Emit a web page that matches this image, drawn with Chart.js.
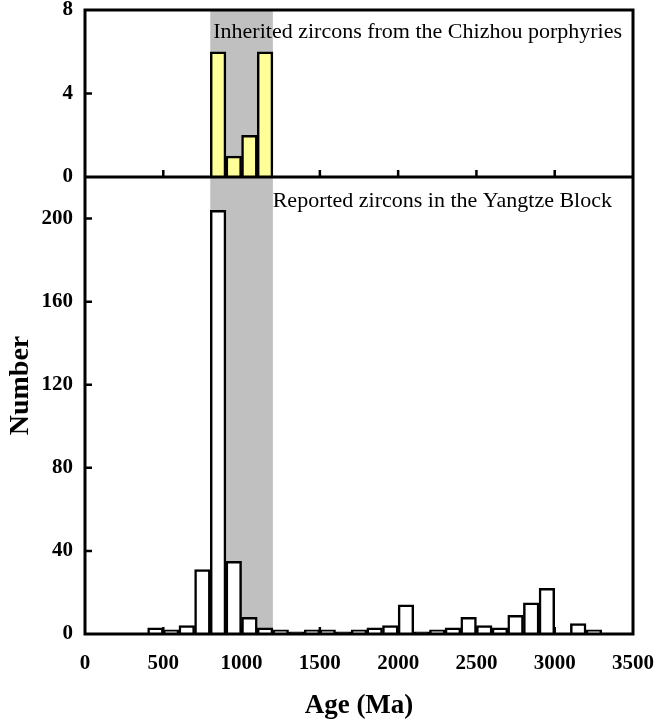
<!DOCTYPE html>
<html>
<head>
<meta charset="utf-8">
<script src="https://cdn.jsdelivr.net/npm/chart.js@4/dist/chart.umd.min.js"></script>
<style>
  html, body { margin: 0; padding: 0; background: #fff; }
  #wrap { width: 657px; height: 722px; position: relative; }
</style>
</head>
<body>
<div id="wrap"><canvas id="c" width="657" height="722"></canvas></div>
<script>
// ---- data (bin start ages in Ma, bin width 100 Ma) ----
const binWidth = 100;
const topBins = [800, 900, 1000, 1100];
const topCounts = [6, 1, 2, 6];
const bottomBins = [400, 500, 600, 700, 800, 900, 1000, 1100, 1200, 1300, 1400, 1500, 1600, 1700, 1800, 1900,
                    2000, 2100, 2200, 2300, 2400, 2500, 2600, 2700, 2800, 2900, 3000, 3100, 3200];
const bottomCounts = [3, 2, 4, 31, 204, 35, 8, 3, 2, 1, 2, 2, 1, 2, 3, 4,
                      14, 1, 2, 3, 8, 4, 3, 9, 15, 22, 0, 5, 2];
const xTicks = [0, 500, 1000, 1500, 2000, 2500, 3000, 3500];
const topYTicks = [0, 4, 8];
const bottomYTicks = [0, 40, 80, 120, 160, 200];
const shadedRange = [800, 1200];
const topLabel = 'Inherited zircons from the Chizhou porphyries';
const bottomLabel = 'Reported zircons in the Yangtze Block';
const yTitle = 'Number';
const xTitle = 'Age (Ma)';

const toPoints = (bins, counts) => bins.map((b, i) => ({ x: b + binWidth / 2, y: counts[i] }));

const SERIF = '"Liberation Serif", "Times New Roman", serif';

const framePlugin = {
  id: 'frame',
  beforeDatasetsDraw(chart) {
    const { ctx, chartArea: a, scales } = chart;
    const x0 = scales.x.getPixelForValue(shadedRange[0]);
    const x1 = scales.x.getPixelForValue(shadedRange[1]);
    ctx.save();
    ctx.fillStyle = '#c0c0c0';
    ctx.fillRect(x0, a.top, x1 - x0, a.bottom - a.top);
    ctx.restore();
  },
  afterDatasetsDraw(chart) {
    const { ctx, chartArea: a, scales } = chart;
    const yt = scales.yTop, yb = scales.yBottom, x = scales.x;
    const sep = yt.bottom;
    ctx.save();
    ctx.strokeStyle = '#000';
    ctx.lineWidth = 2.5;
    ctx.lineCap = 'butt';
    // inward ticks
    const tl = 7;
    ctx.beginPath();
    xTicks.forEach(v => {
      if (v === xTicks[0] || v === xTicks[xTicks.length - 1]) return;
      const px = x.getPixelForValue(v);
      ctx.moveTo(px, sep); ctx.lineTo(px, sep - tl);
      ctx.moveTo(px, yb.bottom); ctx.lineTo(px, yb.bottom - tl);
    });
    topYTicks.forEach(v => {
      if (v === topYTicks[0] || v === topYTicks[topYTicks.length - 1]) return;
      const py = yt.getPixelForValue(v);
      ctx.moveTo(a.left, py); ctx.lineTo(a.left + tl, py);
    });
    bottomYTicks.forEach(v => {
      if (v === 0) return;
      const py = yb.getPixelForValue(v);
      ctx.moveTo(a.left, py); ctx.lineTo(a.left + tl, py);
    });
    ctx.stroke();
    // frame
    ctx.lineWidth = 3;
    ctx.strokeRect(a.left, a.top, a.right - a.left, a.bottom - a.top);
    ctx.beginPath();
    ctx.moveTo(a.left, sep); ctx.lineTo(a.right, sep);
    ctx.stroke();
    // panel labels
    ctx.fillStyle = '#000';
    ctx.font = '22px ' + SERIF;
    ctx.textAlign = 'right';
    ctx.textBaseline = 'middle';
    ctx.fillText(topLabel, a.right - 11, a.top + 22);
    ctx.fillText(bottomLabel, a.right - 21, sep + 24);
    // y axis title
    ctx.font = 'bold 28px ' + SERIF;
    ctx.textAlign = 'center';
    ctx.translate(21, (yb.top + yb.bottom) / 2 - 20);
    ctx.rotate(-Math.PI / 2);
    ctx.fillText(yTitle, 0, 0);
    ctx.restore();
  }
};

const tickFont = { family: SERIF, size: 21, weight: 'bold' };
const noOverhang = s => { s.paddingTop = 0; s.paddingBottom = 0; s.paddingLeft = 0; s.paddingRight = 0; };

new Chart(document.getElementById('c'), {
  type: 'bar',
  data: {
    datasets: [
      {
        label: 'Inherited zircons',
        data: toPoints(topBins, topCounts),
        yAxisID: 'yTop',
        backgroundColor: '#ffff99',
        borderColor: '#000',
        borderWidth: 2.5,
        borderSkipped: 'start',
        grouped: false,
        barPercentage: 1,
        categoryPercentage: 1
      },
      {
        label: 'Reported zircons',
        data: toPoints(bottomBins, bottomCounts),
        yAxisID: 'yBottom',
        backgroundColor: '#ffffff',
        borderColor: '#000',
        borderWidth: 2.5,
        borderSkipped: 'start',
        grouped: false,
        barPercentage: 1,
        categoryPercentage: 1
      }
    ]
  },
  options: {
    responsive: false,
    animation: false,
    devicePixelRatio: 1,
    layout: { padding: { top: 10, right: 24, left: 0, bottom: 0 } },
    plugins: { legend: { display: false }, tooltip: { enabled: false } },
    scales: {
      x: {
        type: 'linear',
        offset: false,
        min: 0, max: 3500,
        grid: { display: false, drawTicks: false, offset: false },
        border: { display: false },
        afterBuildTicks: s => { s.ticks = xTicks.map(v => ({ value: v })); },
        afterFit: s => { s.height = 88; noOverhang(s); },
        ticks: { font: tickFont, color: '#000', padding: 17, maxRotation: 0, autoSkip: false,
                 callback: v => String(v) },
        title: { display: true, text: xTitle, color: '#000', font: { family: SERIF, size: 27, weight: 'bold' }, padding: { top: 19, bottom: 0 } }
      },
      yBottom: {
        type: 'linear',
        position: 'left',
        stack: 'panels',
        stackWeight: 457,
        min: 0, max: 220,
        grid: { display: false, drawTicks: false },
        border: { display: false },
        afterBuildTicks: s => { s.ticks = bottomYTicks.map(v => ({ value: v })); },
        afterFit: s => { s.width = 85; noOverhang(s); },
        ticks: { font: tickFont, color: '#000', padding: 12, autoSkip: false, callback: v => String(v) }
      },
      yTop: {
        type: 'linear',
        position: 'left',
        stack: 'panels',
        stackWeight: 167,
        min: 0, max: 8,
        grid: { display: false, drawTicks: false },
        border: { display: false },
        afterBuildTicks: s => { s.ticks = topYTicks.map(v => ({ value: v })); },
        afterFit: s => { s.width = 85; noOverhang(s); },
        ticks: { font: tickFont, color: '#000', padding: 12, autoSkip: false, callback: v => String(v) }
      }
    }
  },
  plugins: [framePlugin]
});
</script>
</body>
</html>
